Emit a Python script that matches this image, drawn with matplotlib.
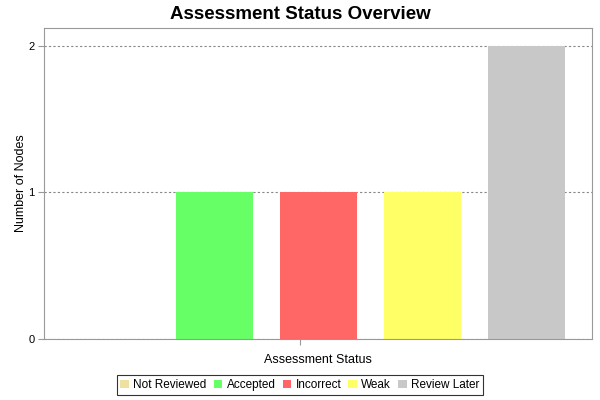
import numpy as np
import matplotlib
matplotlib.use('Agg')
import matplotlib.pyplot as plt
from matplotlib.patches import Patch

plt.rcParams['font.family'] = ['Liberation Sans', 'DejaVu Sans']

statuses = ['Not Reviewed', 'Accepted', 'Incorrect', 'Weak', 'Review Later']
counts = [0, 1, 1, 1, 2]
colors = ['#F0E0A0', '#66FF66', '#FF6666', '#FFFF66', '#C8C8C8']

fig = plt.figure(figsize=(6, 4), dpi=100)
ax = fig.add_axes([0.0733, 0.1525, 0.9134, 0.7775])

x = np.arange(len(statuses))
ax.bar(x, counts, width=0.74, color=colors, edgecolor='none', zorder=2)

ax.set_xlim(-0.64, 4.63)
ax.set_ylim(0, 2.12)
ax.set_yticks([0, 1, 2])
# single category tick, as in the original chart
ax.set_xticks([1.82])
ax.set_xticklabels([''])
ax.tick_params(axis='x', length=4, color='#999999')
ax.tick_params(axis='y', length=4, color='#999999', labelsize=8, pad=3)
ax.yaxis.grid(True, linestyle=(0, (2, 2)), color='#888888', linewidth=0.8)
ax.set_axisbelow(True)
for s in ax.spines.values():
    s.set_color('#999999')
    s.set_linewidth(0.8)

ax.set_xlabel('Assessment Status', fontsize=9, labelpad=3)
ax.set_ylabel('Number of Nodes', fontsize=9, labelpad=1)
fig.suptitle('Assessment Status Overview', fontsize=13.5, fontweight='bold', y=0.985)

handles = [Patch(facecolor=c, edgecolor='none') for c in colors]
leg = fig.legend(handles, statuses, loc='center', bbox_to_anchor=(0.5, 0.0375),
                 ncol=5, fontsize=8.5, frameon=True, fancybox=False,
                 handlelength=0.7, handleheight=0.7, handletextpad=0.4,
                 columnspacing=0.6, borderpad=0.3, borderaxespad=0)
leg.get_frame().set_edgecolor('black')
leg.get_frame().set_linewidth(0.8)

plt.savefig('out.png', dpi=100)
